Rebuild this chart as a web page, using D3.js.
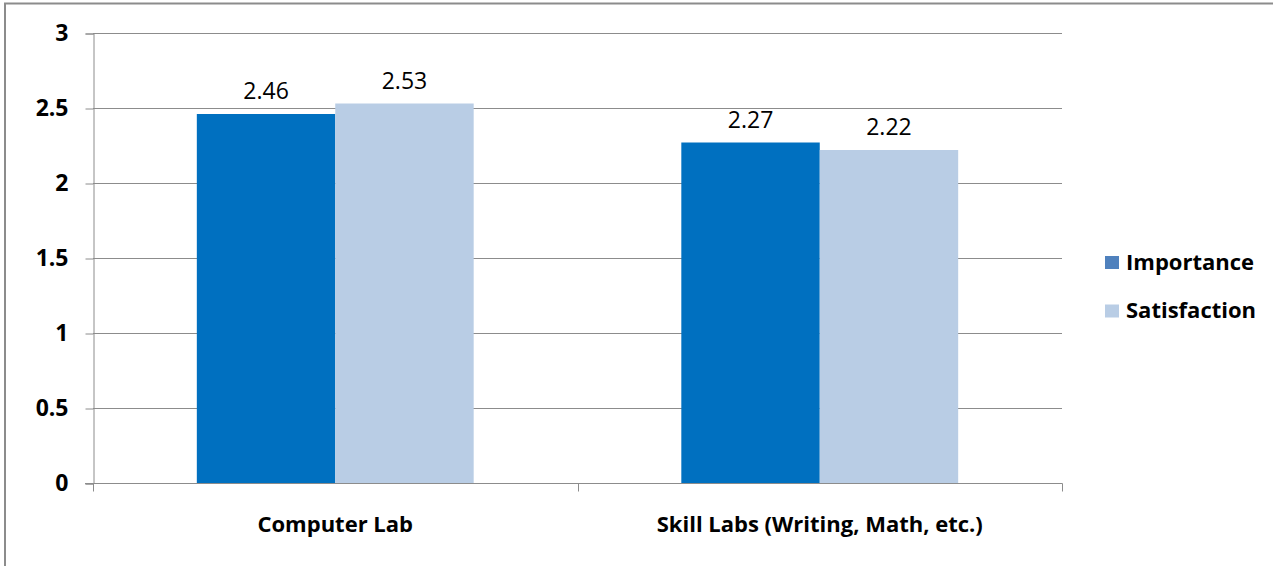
<!DOCTYPE html>
<html>
<head>
<meta charset="utf-8">
<script src="https://cdn.jsdelivr.net/npm/d3@7"></script>
<style>
  html, body { margin: 0; padding: 0; background: #fff; }
  svg { display: block; }
</style>
</head>
<body>
<script>
const categories = ["Computer Lab", "Skill Labs (Writing, Math, etc.)"];
const seriesNames = ["Importance", "Satisfaction"];
const importance = [2.46, 2.27];
const satisfaction = [2.53, 2.22];
const yTicks = [0, 0.5, 1, 1.5, 2, 2.5, 3];

const barColors = ["#0070C0", "#B9CDE5"];
const legendColors = ["#4F81BD", "#B9CDE5"];
const seriesValues = [importance, satisfaction];

const W = 1273, H = 566;
const FONT = "'Open Sans', 'Liberation Sans', sans-serif";

const svg = d3.select("body").append("svg").attr("width", W).attr("height", H);

// outer chart frame
svg.append("rect").attr("x", 5).attr("y", 3.5).attr("width", W + 20).attr("height", H + 20)
  .attr("fill", "none").attr("stroke", "#8c8c8c").attr("stroke-width", 2);

const x0 = d3.scaleBand().domain(categories).range([93, 1062]).padding(0);
const y = d3.scaleLinear().domain([0, 3]).range([483, 33]);
const gapRatio = 0.75;
const groupW = x0.bandwidth() / (1 + gapRatio);
const x1 = d3.scaleBand().domain(seriesNames)
  .range([(x0.bandwidth() - groupW) / 2, (x0.bandwidth() + groupW) / 2]).padding(0);

// gridlines
svg.append("g").selectAll("line").data(yTicks.filter(d => d > 0)).join("line")
  .attr("x1", 93).attr("x2", 1062)
  .attr("y1", d => Math.round(y(d)) + 0.5).attr("y2", d => Math.round(y(d)) + 0.5)
  .attr("stroke", "#8c8c8c").attr("stroke-width", 1);

// y axis
const yAxis = svg.append("g").attr("transform", "translate(93.5,0.5)")
  .call(d3.axisLeft(y).tickValues(yTicks).tickSize(8).tickPadding(17).tickFormat(d => String(d)));
yAxis.select(".domain").attr("stroke", "#8c8c8c");
yAxis.selectAll(".tick line").attr("stroke", "#8c8c8c");
yAxis.selectAll(".tick text").attr("font-family", FONT).attr("font-weight", "bold")
  .attr("font-size", 23).attr("fill", "#000");

// bars
const groups = svg.append("g").selectAll("g").data(categories).join("g")
  .attr("transform", d => `translate(${x0(d)},0)`);
groups.selectAll("rect").data((c, i) => seriesNames.map((s, j) => ({ s, v: seriesValues[j][i], j })))
  .join("rect")
  .attr("x", d => x1(d.s)).attr("width", x1.bandwidth())
  .attr("y", d => y(d.v)).attr("height", d => y(0) - y(d.v))
  .attr("fill", d => barColors[d.j]);
groups.selectAll("text").data((c, i) => seriesNames.map((s, j) => ({ s, v: seriesValues[j][i], j })))
  .join("text")
  .attr("x", d => x1(d.s) + x1.bandwidth() / 2).attr("y", d => y(d.v) - 15)
  .attr("text-anchor", "middle").attr("font-family", FONT).attr("font-size", 23).attr("fill", "#000")
  .text(d => d.v.toFixed(2));

// x axis
const xAxis = svg.append("g").attr("transform", "translate(0,483.5)");
xAxis.append("line").attr("x1", 85).attr("x2", 1062.5).attr("stroke", "#8c8c8c");
xAxis.selectAll("line.t").data([93, 577.5, 1062]).join("line").attr("class", "t")
  .attr("x1", d => Math.round(d) + 0.5).attr("x2", d => Math.round(d) + 0.5)
  .attr("y1", 0).attr("y2", 8).attr("stroke", "#8c8c8c");
xAxis.selectAll("text").data(categories).join("text")
  .attr("x", d => x0(d) + x0.bandwidth() / 2).attr("y", 48.5)
  .attr("text-anchor", "middle").attr("font-family", FONT).attr("font-weight", "bold")
  .attr("font-size", 22).attr("fill", "#000").text(d => d);

// legend
const legend = svg.append("g").selectAll("g").data(seriesNames).join("g")
  .attr("transform", (d, i) => `translate(1105,${256 + i * 48.5})`);
legend.append("rect").attr("width", 14).attr("height", 13).attr("fill", (d, i) => legendColors[i]);
legend.append("text").attr("x", 21).attr("y", 13.5).attr("font-family", FONT).attr("font-weight", "bold")
  .attr("font-size", 22).attr("fill", "#000").text(d => d);
</script>
</body>
</html>
